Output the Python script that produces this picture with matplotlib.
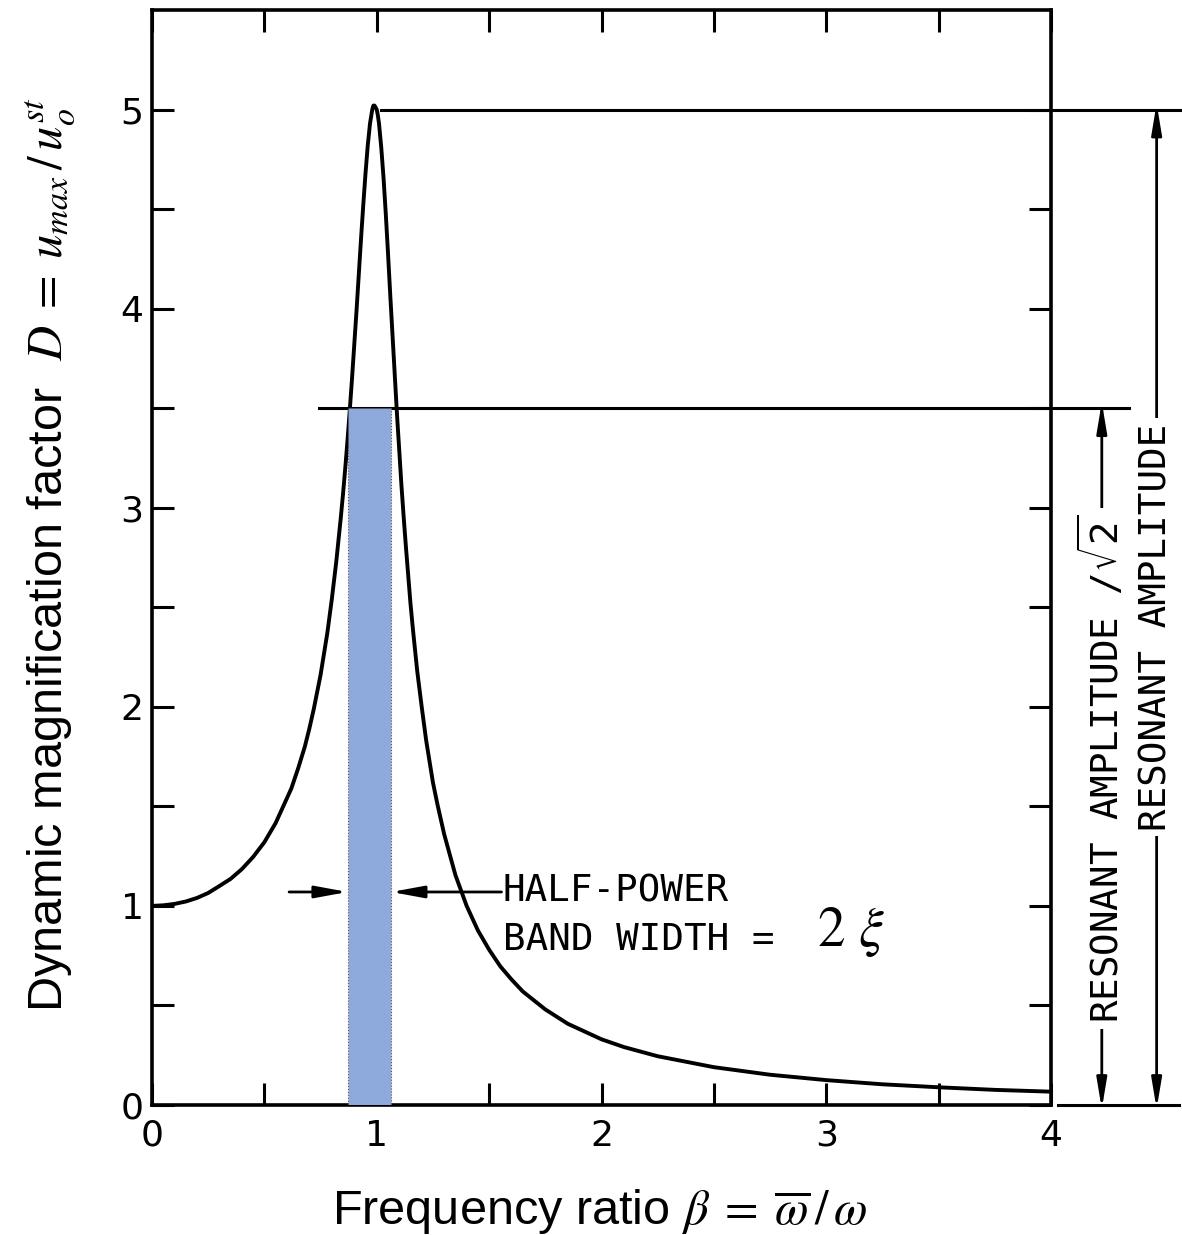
import matplotlib.pyplot as plt
from matplotlib.patches import Rectangle

# Frequency ratio / magnification factor
beta = [0.0, 0.05, 0.1, 0.15, 0.2, 0.25, 0.3, 0.35, 0.4, 0.45, 0.5, 0.55,
        0.6, 0.62, 0.65, 0.68, 0.7, 0.72, 0.75, 0.78, 0.8, 0.82, 0.84, 0.85,
        0.86, 0.87, 0.88, 0.89, 0.9, 0.91, 0.92, 0.93, 0.94, 0.95, 0.96,
        0.97, 0.98, 0.985, 0.99, 1.0, 1.005, 1.01, 1.02, 1.03, 1.04, 1.05,
        1.06, 1.07, 1.08, 1.09, 1.1, 1.11, 1.12, 1.13, 1.14, 1.15, 1.16,
        1.18, 1.2, 1.22, 1.25, 1.27, 1.3, 1.35, 1.4, 1.45, 1.5, 1.55, 1.6,
        1.65, 1.75, 1.85, 2.0, 2.1, 2.25, 2.5, 2.75, 3.0, 3.25, 3.5, 3.75,
        4.0]
D = [1.0, 1.003, 1.01, 1.022, 1.04, 1.065, 1.10, 1.136, 1.185, 1.246, 1.32,
     1.416, 1.54, 1.59, 1.69, 1.80, 1.89, 1.99, 2.16, 2.37, 2.54, 2.73, 2.95,
     3.07, 3.20, 3.34, 3.49, 3.65, 3.82, 3.99, 4.17, 4.35, 4.52, 4.68, 4.82,
     4.93, 5.0, 5.02, 5.02, 5.0, 4.97, 4.93, 4.81, 4.66, 4.48, 4.28, 4.07,
     3.87, 3.67, 3.47, 3.29, 3.11, 2.95, 2.80, 2.66, 2.52, 2.40, 2.18, 2.0,
     1.83, 1.62, 1.51, 1.36, 1.155, 1.0, 0.877, 0.78, 0.696, 0.63, 0.57,
     0.48, 0.408, 0.33, 0.291, 0.245, 0.19, 0.152, 0.125, 0.104, 0.089,
     0.076, 0.067]

peak = 5.0
half_power = 3.5
band = [0.87, 1.065]
arrow_y = 1.07

xticks = [0, 1, 2, 3, 4]
yticks = [0, 1, 2, 3, 4, 5]

W, H = 1182, 1235
fig = plt.figure(figsize=(W / 100, H / 100), dpi=100)
ax = fig.add_axes([152 / W, 130 / H, (1051 - 152) / W, (1225 - 130) / H])

ax.plot(beta, D, color='black', lw=2.8, zorder=3, solid_joinstyle='round')

# half-power band
ax.add_patch(Rectangle((band[0], 0), band[1] - band[0], half_power,
                       facecolor='#8eaadc', edgecolor='#555555', lw=0.8,
                       ls=':', zorder=4))

# reference lines extending past the frame
ax.plot([1.02, 4.58], [peak, peak], color='black', lw=2.2, clip_on=False)
ax.plot([0.745, 4.345], [half_power, half_power], color='black', lw=2.2, clip_on=False)
ax.plot([4.03, 4.57], [0, 0], color='black', lw=2.2, clip_on=False)

head = '-|>,head_length=0.65,head_width=0.12'
ax.annotate('', xy=(band[0], arrow_y), xytext=(0.61, arrow_y),
            arrowprops=dict(arrowstyle=head, color='black', lw=2,
                            mutation_scale=30, shrinkA=0, shrinkB=0), zorder=5)
ax.annotate('', xy=(band[1], arrow_y), xytext=(1.555, arrow_y),
            arrowprops=dict(arrowstyle=head, color='black', lw=2,
                            mutation_scale=30, shrinkA=0, shrinkB=0), zorder=5)

mono = 'DejaVu Sans Mono'
ax.text(1.56, arrow_y, 'HALF-POWER', family=mono, fontsize=27,
        va='center', ha='left')
ax.text(1.56, arrow_y - 0.24, 'BAND WIDTH =', family=mono, fontsize=27,
        va='center', ha='left')
ax.text(2.96, arrow_y - 0.2, r'$2\ \xi$', fontsize=40, va='center', ha='left',
        math_fontfamily='stix')

# vertical dimension arrows on the right
dim = '<|-|>,head_length=0.6,head_width=0.1'
for x, top in [(4.226, half_power), (4.47, peak)]:
    ax.annotate('', xy=(x, -0.02), xytext=(x, top + 0.03), annotation_clip=False,
                arrowprops=dict(arrowstyle=dim, color='black', lw=2,
                                mutation_scale=30, shrinkA=0, shrinkB=0))

ax.text(4.226, 1.69, r'RESONANT AMPLITUDE /$\sqrt{2}$', family=mono,
        fontsize=27, rotation=90, ha='center', va='center', clip_on=False,
        math_fontfamily='dejavusans',
        bbox=dict(facecolor='white', edgecolor='none', pad=4))
ax.text(4.47, 2.4, 'RESONANT AMPLITUDE', family=mono, fontsize=27,
        rotation=90, ha='center', va='center', clip_on=False,
        bbox=dict(facecolor='white', edgecolor='none', pad=4))

ax.set_xlim(0, 4)
ax.set_ylim(0, 5.5)
ax.set_xticks(xticks)
ax.set_yticks(yticks)
ax.set_xticks([0.5, 1.5, 2.5, 3.5], minor=True)
ax.set_yticks([0.5, 1.5, 2.5, 3.5, 4.5], minor=True)
ax.tick_params(which='both', direction='in', length=16, width=2.2,
               top=True, right=True)
ax.tick_params(axis='x', which='major', labelsize=26, pad=10)
ax.tick_params(axis='y', which='major', labelsize=26, pad=6)
for s in ax.spines.values():
    s.set_linewidth(2.6)

fig.text(600 / W, 1 - 1212 / H,
         r'Frequency ratio $\beta\;=\;\overline{\omega}\,/\,\omega$',
         family='Liberation Sans', fontsize=35, ha='center', va='center',
         math_fontfamily='stix')
fig.text(50 / W, 1 - 555 / H,
         r'Dynamic magnification factor  $D\;=\;u_{max}\,/\,u_o^{st}$',
         family='Liberation Sans', fontsize=35, ha='center', va='center',
         rotation=90, math_fontfamily='stix')

fig.savefig('out.png', dpi=100)
